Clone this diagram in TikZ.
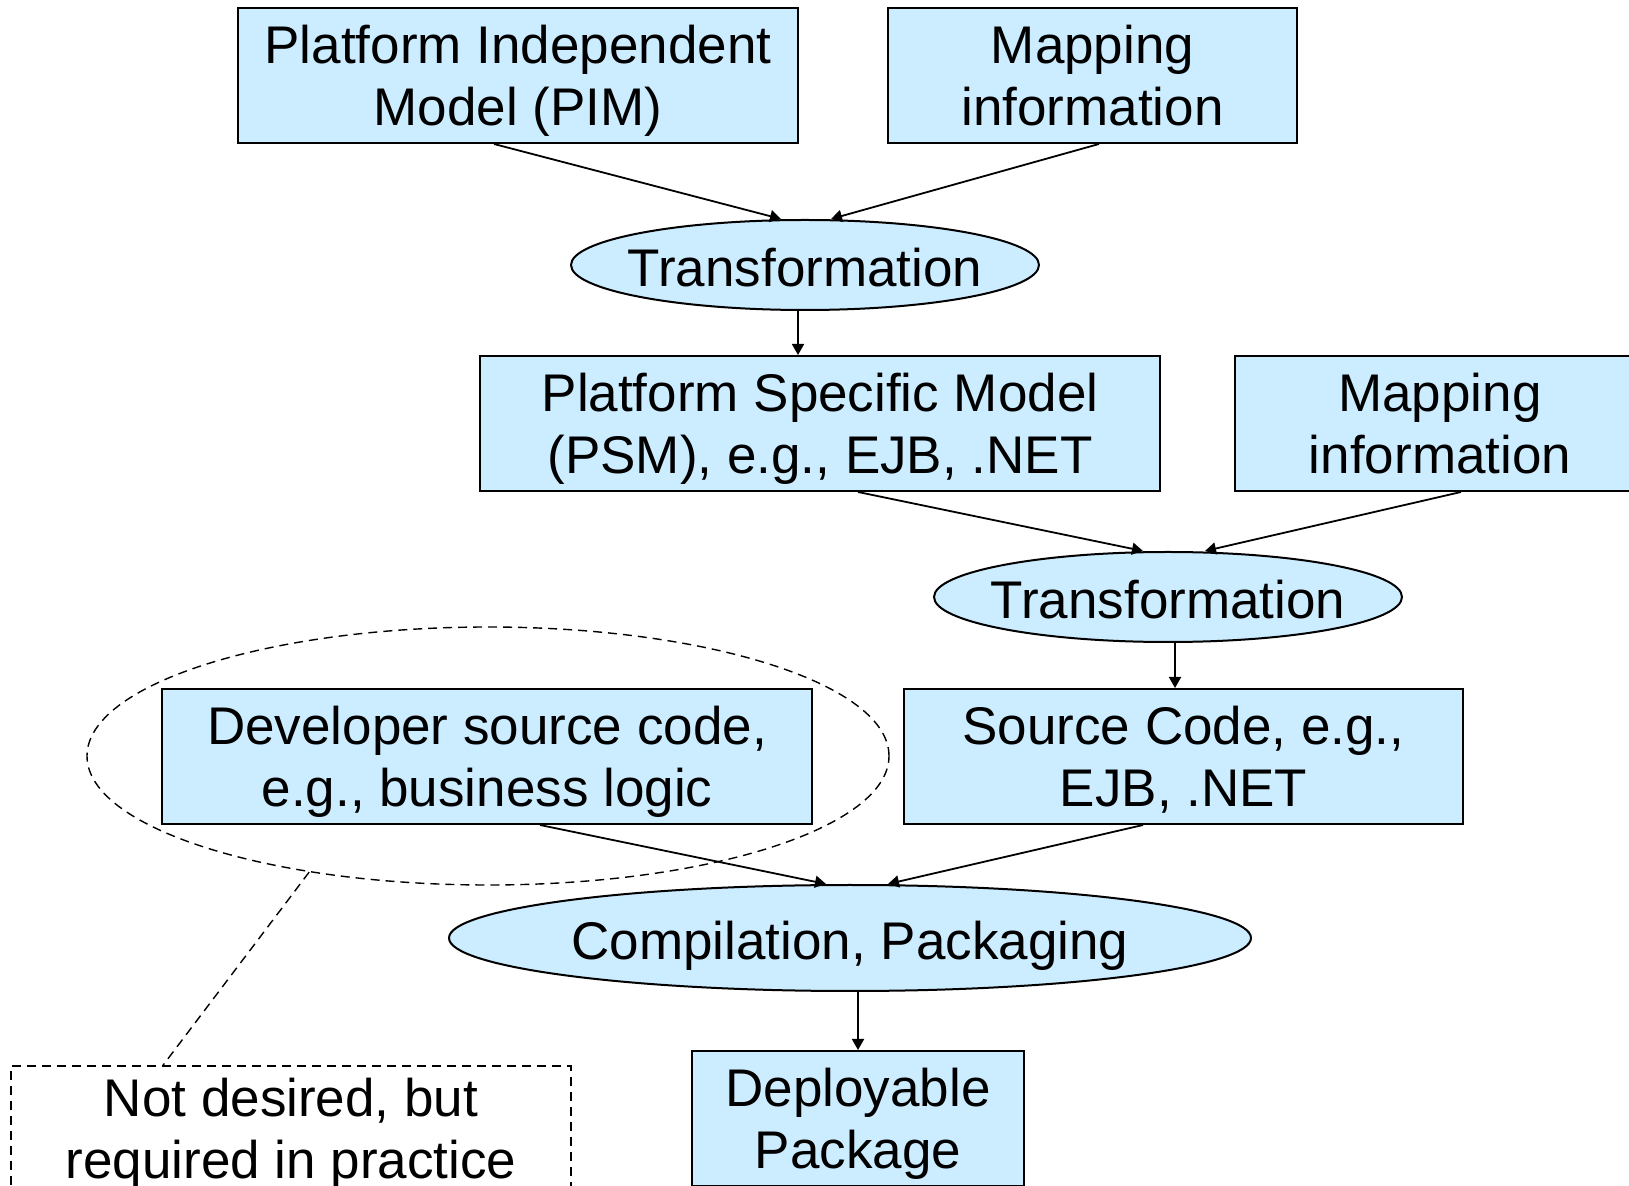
\documentclass[tikz,border=0pt]{standalone}
\usepackage{fontspec}
\setmainfont{Liberation Sans}
\usetikzlibrary{shapes.geometric,arrows.meta}
\definecolor{boxfill}{RGB}{204,236,255}
\newcommand{\oneline}[1]{\makebox[0pt][c]{#1}}
\begin{document}
\begin{tikzpicture}[x=0.5pt,y=-0.5pt,
  every node/.style={font=\fontsize{26.5pt}{31pt}\selectfont, align=center, inner sep=0pt},
  twolines/.style={text height=53pt, text depth=3pt},
  modelbox/.style={rectangle, draw=black, line width=1pt, fill=boxfill, minimum height=67.5pt, twolines},
  stepoval/.style={ellipse, draw=black, line width=1pt, fill=boxfill, text height=24pt, text depth=2.4pt},
  flow/.style={line width=0.9pt, -{Triangle[length=5.5pt,width=6pt]}},
  hint/.style={line width=0.7pt, dash pattern=on 4.5pt off 3pt}]
  \useasboundingbox (0,0) rectangle (1629,1186);
  \clip (0,0) rectangle (1629,1186);
  \fill[white] (0,0) rectangle (1629,1186);

  % first transformation stage
  \node[modelbox, minimum width=280pt]   (pim)  at (518,75.5)   {Platform Independent\\Model (PIM)};
  \node[modelbox, minimum width=204.5pt] (map1) at (1092.5,75.5) {Mapping\\information};
  \node[stepoval, minimum width=234pt, minimum height=45pt] (t1) at (805,265) {\oneline{Transformation}};

  % second transformation stage
  \node[modelbox, minimum width=340pt] (psm)  at (820,423.5)  {Platform Specific Model\\(PSM), e.g., EJB, .NET};
  \node[modelbox, minimum width=205pt] (map2) at (1440,423.5) {Mapping\\information};
  \node[stepoval, minimum width=234pt, minimum height=45pt] (t2) at (1168,597) {\oneline{Transformation}};

  % code and packaging
  \node[ellipse, hint, draw=black, minimum width=401pt, minimum height=129pt] (hand) at (488,756) {};
  \node[modelbox, minimum width=325pt]   (dev) at (487,756.5)    {Developer source code,\\e.g., business logic};
  \node[modelbox, minimum width=279.5pt] (src) at (1183.5,756.5) {Source Code, e.g.,\\EJB, .NET};
  \node[stepoval, minimum width=401pt, minimum height=53pt] (comp) at (850,938) {\oneline{Compilation, Packaging}};
  \node[modelbox, minimum width=166pt] (dep) at (858,1118.5) {Deployable\\Package};

  % annotation
  \node[rectangle, hint, draw=black, fill=white, minimum width=280pt, minimum height=67.5pt,
        text height=48pt, text depth=3pt] (note) at (291,1133.5) {Not desired, but\\required in practice};

  % connectors
  \draw[flow] ([xshift=-12pt]pim.south) -- ([xshift=-12pt]t1.north);
  \draw[flow] ([xshift=3.25pt]map1.south) -- ([xshift=13pt]t1.north);
  \draw[flow] ([xshift=-3.5pt]t1.south) -- ([xshift=-3.5pt]t1.south |- psm.north);
  \draw[flow] ([xshift=19pt]psm.south) -- ([xshift=-12.5pt]t2.north);
  \draw[flow] ([xshift=10.5pt]map2.south) -- ([xshift=18.5pt]t2.north);
  \draw[flow] ([xshift=3.5pt]t2.south) -- ([xshift=3.5pt]t2.south |- src.north);
  \draw[flow] ([xshift=26.5pt]dev.south) -- ([xshift=-12pt]comp.north);
  \draw[flow] ([xshift=-20.25pt]src.south) -- ([xshift=19pt]comp.north);
  \draw[flow] ([xshift=4pt]comp.south) -- ([xshift=4pt]comp.south |- dep.north);
  \draw[hint] (hand.213) -- ([xshift=-64pt]note.north);
\end{tikzpicture}
\end{document}
